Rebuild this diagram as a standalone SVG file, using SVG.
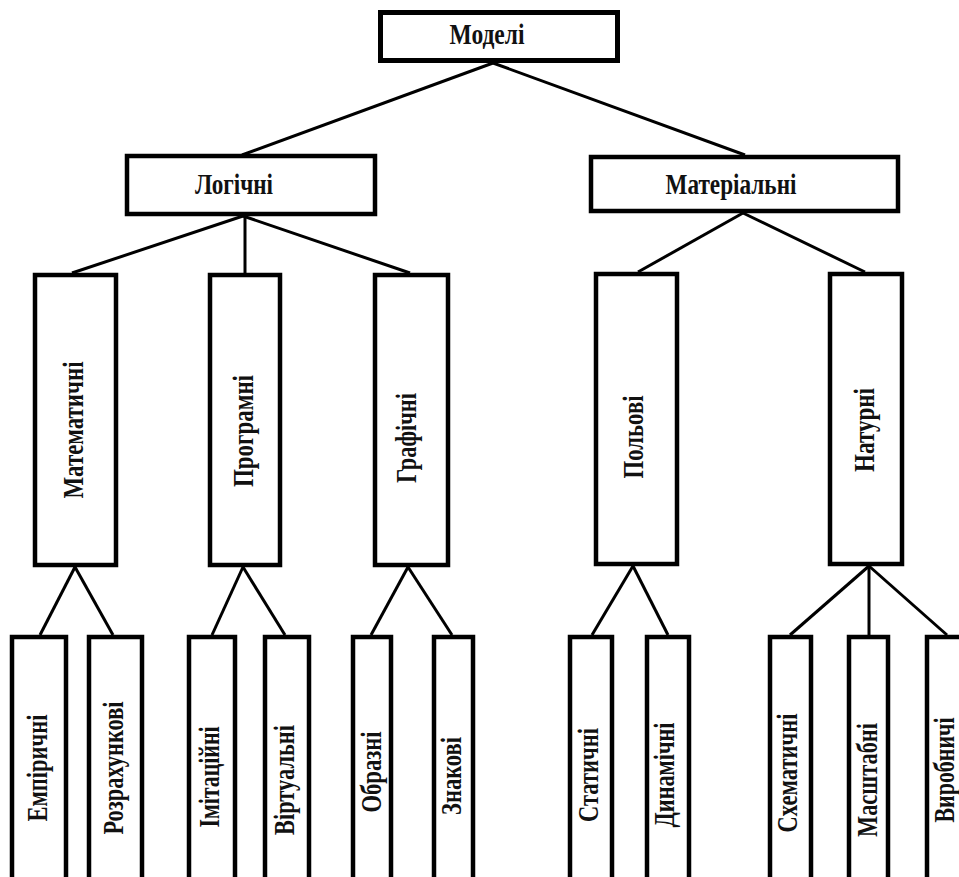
<svg xmlns="http://www.w3.org/2000/svg" width="959" height="877" viewBox="0 0 959 877">
<style>
.box{fill:#fff;stroke:#000;stroke-width:4.5}
.ln{stroke:#000;stroke-width:3;fill:none}
.t{font-family:"Liberation Serif","Times New Roman",serif;font-weight:bold;font-size:29px;fill:#111;text-anchor:middle}
</style>
<rect width="959" height="877" fill="#fff"/>
<g id="connectors">
<line class="ln" x1="493" y1="63" x2="242" y2="155"/>
<line class="ln" x1="493" y1="63" x2="745" y2="155"/>
<line class="ln" x1="243" y1="216" x2="72" y2="273"/>
<line class="ln" x1="245" y1="216" x2="245" y2="273"/>
<line class="ln" x1="243" y1="216" x2="410" y2="273"/>
<line class="ln" x1="743" y1="213" x2="638" y2="272"/>
<line class="ln" x1="743" y1="213" x2="865" y2="272"/>
<line class="ln" x1="75" y1="567" x2="40" y2="635"/>
<line class="ln" x1="75" y1="567" x2="113" y2="635"/>
<line class="ln" x1="243" y1="567" x2="212" y2="635"/>
<line class="ln" x1="243" y1="567" x2="285" y2="635"/>
<line class="ln" x1="408" y1="567" x2="371" y2="635"/>
<line class="ln" x1="408" y1="567" x2="452" y2="635"/>
<line class="ln" x1="633" y1="566" x2="592" y2="635"/>
<line class="ln" x1="633" y1="566" x2="668" y2="635"/>
<line class="ln" x1="869" y1="566" x2="790" y2="635"/>
<line class="ln" x1="869" y1="566" x2="869" y2="635"/>
<line class="ln" x1="869" y1="566" x2="947" y2="635"/>
</g>
<g id="modeli"><rect class="box" x="380.5" y="12.5" width="237" height="48" style="stroke-width:5"/><text class="t" x="487" y="44" textLength="75" lengthAdjust="spacingAndGlyphs">Моделі</text></g>
<g id="logichni"><rect class="box" x="127" y="156" width="248" height="58"/><text class="t" x="234" y="194" textLength="78" lengthAdjust="spacingAndGlyphs">Логічні</text></g>
<g id="materialni"><rect class="box" x="591" y="157" width="307" height="54"/><text class="t" x="731" y="194" textLength="131" lengthAdjust="spacingAndGlyphs">Матеріальні</text></g>

<g id="matematychni"><rect class="box" x="35" y="275" width="81" height="290"/><text class="t" transform="translate(83,430) rotate(-90)" textLength="137" lengthAdjust="spacingAndGlyphs">Математичні</text></g>
<g id="prohramni"><rect class="box" x="210" y="275" width="70" height="290"/><text class="t" transform="translate(253,431) rotate(-90)" textLength="112" lengthAdjust="spacingAndGlyphs">Програмні</text></g>
<g id="hrafichni"><rect class="box" x="375" y="275" width="73" height="290"/><text class="t" transform="translate(416,438) rotate(-90)" textLength="90" lengthAdjust="spacingAndGlyphs">Графічні</text></g>
<g id="polovi"><rect class="box" x="596" y="274" width="81" height="290"/><text class="t" transform="translate(643,437) rotate(-90)" textLength="83" lengthAdjust="spacingAndGlyphs">Польові</text></g>
<g id="naturni"><rect class="box" x="830" y="274" width="72" height="290"/><text class="t" transform="translate(874,430) rotate(-90)" textLength="84" lengthAdjust="spacingAndGlyphs">Натурні</text></g>

<g id="empirychni"><rect class="box" x="12" y="637" width="54" height="260"/><text class="t" transform="translate(47,768) rotate(-90)" textLength="107" lengthAdjust="spacingAndGlyphs">Емпіричні</text></g>
<g id="rozrakhunkovi"><rect class="box" x="89" y="637" width="53" height="260"/><text class="t" transform="translate(123,768) rotate(-90)" textLength="133" lengthAdjust="spacingAndGlyphs">Розрахункові</text></g>
<g id="imitatsiini"><rect class="box" x="189" y="637" width="46" height="260"/><text class="t" transform="translate(219,777) rotate(-90)" textLength="101" lengthAdjust="spacingAndGlyphs">Імітаційні</text></g>
<g id="virtualni"><rect class="box" x="265" y="637" width="44" height="260"/><text class="t" transform="translate(294,780) rotate(-90)" textLength="110" lengthAdjust="spacingAndGlyphs">Віртуальні</text></g>
<g id="obrazni"><rect class="box" x="353" y="637" width="38" height="260"/><text class="t" transform="translate(381,772) rotate(-90)" textLength="81" lengthAdjust="spacingAndGlyphs">Образні</text></g>
<g id="znakovi"><rect class="box" x="434" y="637" width="39" height="260"/><text class="t" transform="translate(461,776) rotate(-90)" textLength="78" lengthAdjust="spacingAndGlyphs">Знакові</text></g>
<g id="statychni"><rect class="box" x="570" y="637" width="42" height="260"/><text class="t" transform="translate(598,775) rotate(-90)" textLength="94" lengthAdjust="spacingAndGlyphs">Статичні</text></g>
<g id="dynamichni"><rect class="box" x="647" y="637" width="42" height="260"/><text class="t" transform="translate(674,775) rotate(-90)" textLength="105" lengthAdjust="spacingAndGlyphs">Динамічні</text></g>
<g id="skhematychni"><rect class="box" x="770" y="637" width="41" height="260"/><text class="t" transform="translate(797,773) rotate(-90)" textLength="119" lengthAdjust="spacingAndGlyphs">Схематичні</text></g>
<g id="masshtabni"><rect class="box" x="849" y="637" width="39" height="260"/><text class="t" transform="translate(877,780) rotate(-90)" textLength="114" lengthAdjust="spacingAndGlyphs">Масштабні</text></g>
<g id="vyrobnychi"><rect class="box" x="927" y="637" width="45" height="260"/><text class="t" transform="translate(954,770) rotate(-90)" textLength="105" lengthAdjust="spacingAndGlyphs">Виробничі</text></g>
</svg>
